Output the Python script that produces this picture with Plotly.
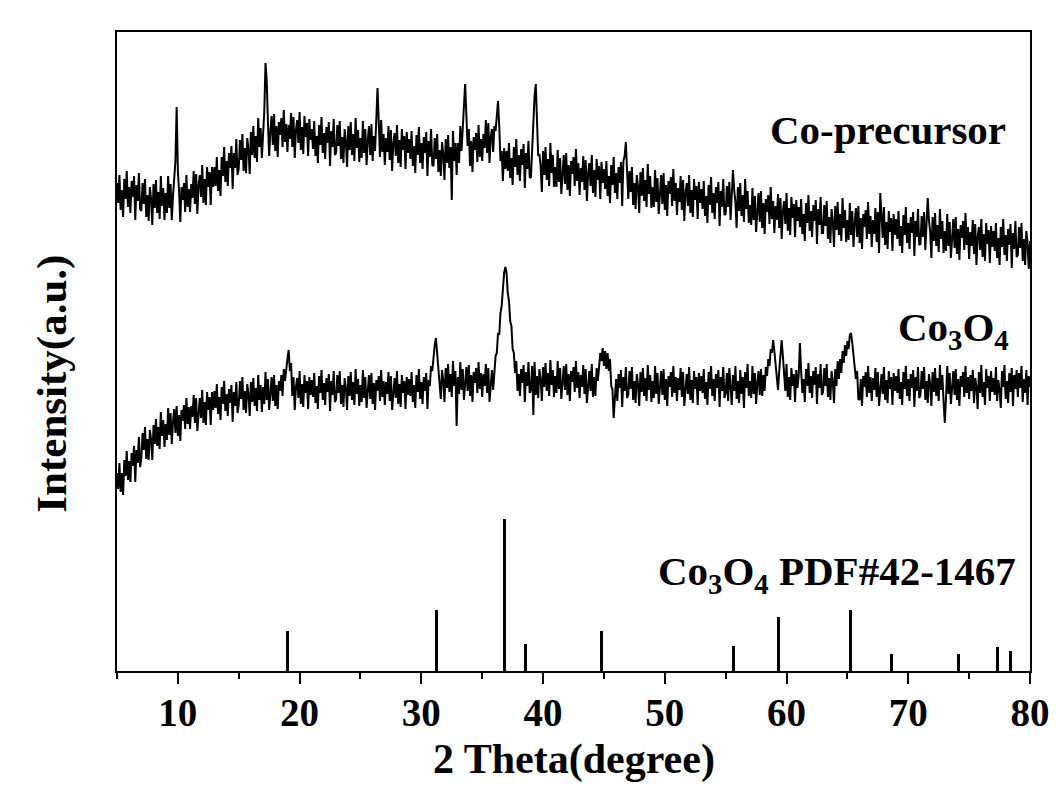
import numpy as np
import plotly.graph_objects as go

# 2-theta grid (degrees), step 0.1 from 5 to 80
two_theta = np.round(np.linspace(5.0, 80.0, 751), 1)

# Co-precursor intensity (arbitrary units, vertically offset), 20 points per 2 degrees
precursor = [
    488,468,496,461,481,454,492,472,500,464,484,458,490,474,495,451,486,470,498,462,
    460,488,467,492,454,476,450,484,472,446,487,463,491,458,479,452,495,465,483,451,
    478,458,495,463,487,451,475,490,510,564,500,480,449,484,471,488,459,496,464,482,
    459,487,473,500,467,497,457,486,496,474,506,468,492,466,504,484,499,466,504,484,
    504,485,514,480,501,475,514,495,524,489,510,485,518,503,525,482,518,503,532,496,
    502,531,511,537,500,523,498,533,522,497,539,516,545,513,535,509,553,524,543,513,
    535,560,608,590,548,515,540,555,526,557,520,545,514,549,536,553,524,561,529,547,
    519,546,532,558,524,554,513,541,551,528,559,521,544,517,555,534,548,515,552,531,
    542,522,550,515,535,508,546,526,554,518,538,512,544,528,549,505,540,524,552,516,
    518,546,525,550,512,534,508,542,530,504,545,521,549,516,537,510,553,523,541,509,
    533,513,550,518,542,506,530,545,516,547,510,535,520,555,583,550,514,551,519,537,
    506,533,519,545,511,541,500,528,538,515,546,508,531,504,542,521,535,502,539,518,
    532,512,540,505,525,498,536,516,544,508,528,502,534,518,539,495,530,514,542,506,
    505,533,512,537,499,521,495,529,517,491,532,508,536,503,524,471,540,510,528,496,
    528,508,545,520,550,565,587,560,525,542,505,530,499,534,521,538,509,546,514,532,
    510,537,523,551,518,548,508,534,542,519,545,540,555,570,545,510,520,490,523,502,
    520,500,528,493,513,486,524,504,532,496,516,490,522,506,527,483,518,502,530,494,
    493,521,540,575,587,555,515,517,505,479,520,496,524,491,512,485,528,498,516,484,
    504,484,521,489,513,477,501,516,487,518,481,506,475,510,497,514,485,522,490,508,
    476,503,489,515,481,511,470,498,508,485,516,478,501,474,512,491,505,472,509,488,
    502,482,510,475,495,468,506,486,514,478,498,472,504,488,509,465,510,515,529,500,
    472,500,479,504,466,488,462,496,484,458,499,475,503,470,491,464,507,477,495,463,
    484,464,501,469,493,457,481,496,467,498,461,486,455,490,477,494,465,502,470,488,
    456,483,469,495,461,491,450,478,488,465,496,458,481,454,492,471,485,452,489,468,
    482,462,490,455,475,448,486,466,494,458,478,452,484,468,489,445,480,464,492,456,
    457,485,464,489,451,473,501,481,469,443,484,460,488,455,476,449,492,462,480,448,
    466,446,483,451,475,439,463,478,449,480,443,468,437,472,459,476,447,484,452,470,
    438,465,451,477,443,473,432,460,470,447,478,440,463,436,474,453,467,434,471,450,
    464,444,472,437,457,430,468,448,476,440,460,434,466,450,471,427,462,446,474,438,
    438,466,445,470,432,454,428,462,450,424,465,441,469,436,457,430,473,443,461,429,
    451,431,468,436,460,424,448,463,434,465,428,453,422,457,444,461,432,469,437,455,
    424,451,437,463,429,459,418,478,456,433,464,426,449,422,460,439,453,420,457,436,
    452,432,460,425,445,418,456,436,464,428,448,422,454,438,459,415,450,434,462,426,
    427,455,434,459,421,443,473,451,439,413,454,430,458,425,446,419,462,432,450,418,
    440,420,457,425,449,413,437,452,423,454,417,442,411,446,433,450,421,458,426,444,
    412,439,425,451,417,447,406,434,444,421,452,414,437,410,448,427,441,408,445,424,
    440,420,448,413,433,406,444,424,452,416,436,410,442,426,447,403,438,422,450,414,
    416,444,423,448,410,432,406,440,428,402,430,
]

# Co3O4 intensity (arbitrary units, vertically offset), 20 points per 2 degrees
co3o4 = [
    198,182,208,179,198,176,211,195,220,191,210,189,218,205,225,189,221,208,234,204,
    213,238,221,244,212,232,211,241,232,211,246,227,252,225,244,222,259,235,251,224,
    247,231,263,236,258,227,249,262,238,265,235,256,230,261,250,266,242,273,247,264,
    242,265,254,276,248,273,240,263,273,253,281,248,269,246,279,261,274,246,279,261,
    280,263,287,257,274,251,284,267,290,260,277,255,282,268,286,249,279,265,289,258,
    266,290,272,294,261,280,258,287,277,255,289,269,293,265,283,260,296,271,286,259,
    284,267,299,271,292,261,282,294,270,296,265,286,262,290,280,296,275,302,290,305,
    312,321,300,308,275,294,261,284,293,273,300,267,287,264,296,278,290,262,294,276,
    291,274,298,268,285,262,295,278,301,271,288,266,293,279,297,260,290,276,300,269,
    272,296,278,300,267,286,264,293,283,261,295,275,299,271,289,266,302,277,292,265,
    286,269,301,273,294,263,284,296,272,298,267,288,261,291,280,295,270,301,274,290,
    266,289,277,299,270,295,261,284,293,273,300,267,287,264,296,278,290,262,294,276,
    292,275,299,269,286,263,296,279,302,272,289,267,294,280,298,262,291,285,305,300,
    315,326,333,318,298,282,272,301,291,269,303,283,307,279,297,274,310,285,300,245,
    294,277,309,281,302,271,292,304,280,306,275,296,269,299,288,303,278,309,282,298,
    274,297,285,307,278,303,269,292,301,281,300,315,318,338,336,358,365,388,398,404,
    398,378,370,350,345,322,318,298,310,280,297,275,302,288,306,269,299,285,309,278,
    281,305,256,309,276,295,273,302,292,270,304,284,308,280,298,275,311,286,301,274,
    295,278,310,282,303,272,293,305,281,307,276,297,270,300,289,304,279,310,283,299,
    273,296,284,306,277,302,268,291,300,280,307,274,294,275,303,290,305,318,310,323,
    305,320,302,318,300,312,285,282,253,275,292,270,297,283,301,264,294,280,304,273,
    276,300,282,304,271,290,268,297,287,265,299,279,303,275,293,270,306,281,296,269,
    290,273,305,277,298,267,288,300,276,302,271,292,265,295,284,299,274,305,278,294,
    270,293,281,303,274,299,265,288,297,277,304,271,291,268,300,282,294,266,298,280,
    295,278,302,272,289,266,299,282,305,275,292,270,297,283,301,264,294,280,304,273,
    278,298,270,303,284,266,296,280,305,272,290,268,301,277,294,263,299,283,307,275,
    290,273,305,277,298,267,288,300,276,302,275,296,280,304,295,312,305,322,318,331,
    320,308,290,281,300,322,331,315,298,280,307,274,294,271,303,285,297,269,301,283,
    296,328,300,278,292,269,302,285,308,278,295,273,300,286,304,267,297,283,307,276,
    279,303,285,307,274,293,271,300,290,268,302,285,310,292,312,298,320,308,326,315,
    330,322,336,338,328,318,305,292,300,272,271,292,265,295,284,299,274,305,278,294,
    270,293,281,303,274,299,265,288,297,277,304,271,291,268,300,282,294,266,298,280,
    295,278,302,272,289,266,299,282,305,275,292,270,297,283,301,264,294,280,304,273,
    276,300,282,304,271,290,268,297,287,265,299,279,303,275,293,270,306,281,296,269,
    248,273,305,277,298,267,288,300,276,302,271,292,265,295,284,299,274,305,278,294,
    272,296,280,301,268,293,284,262,299,278,306,274,289,266,302,283,295,270,300,279,
    293,276,304,270,291,281,263,300,284,306,272,290,268,298,279,303,265,296,282,301,
    274,298,283,305,269,292,278,301,266,295,284,
]

assert len(precursor) == len(two_theta), len(precursor)
assert len(co3o4) == len(two_theta), len(co3o4)

# Standard card Co3O4 PDF#42-1467 reference lines
pdf_pos = [19.0, 31.27, 36.85, 38.54, 44.81, 55.66, 59.36, 65.24, 68.63, 74.11, 77.34, 78.4]
pdf_int = [40, 61, 152, 27, 40, 25, 54, 61, 17, 17, 24, 20]

FONT = "Liberation Serif"

fig = go.Figure()
fig.add_trace(go.Scatter(x=two_theta, y=precursor, mode="lines",
                         line=dict(color="black", width=2.0), showlegend=False))
fig.add_trace(go.Scatter(x=two_theta, y=co3o4, mode="lines",
                         line=dict(color="black", width=2.0), showlegend=False))
fig.add_trace(go.Bar(x=pdf_pos, y=pdf_int, width=0.24, marker=dict(color="black", line=dict(width=0)),
                     showlegend=False))

lab_font = dict(family=FONT, size=41, color="black", weight="bold")
fig.add_annotation(x=78.2, y=541, text="Co-precursor", showarrow=False,
                   xanchor="right", yanchor="middle", font=lab_font)
fig.add_annotation(x=78.4, y=341, text="Co<sub>3</sub>O<sub>4</sub>", showarrow=False,
                   xanchor="right", yanchor="middle", font=lab_font)
fig.add_annotation(x=79.0, y=97, text="Co<sub>3</sub>O<sub>4</sub> PDF#42-1467", showarrow=False,
                   xanchor="right", yanchor="middle", font=lab_font)
# axis titles
fig.add_annotation(x=-0.071, y=0.45, xref="paper", yref="paper", text="Intensity(a.u.)",
                   textangle=-90, showarrow=False, xanchor="center", yanchor="middle",
                   font=dict(family=FONT, size=43, color="black", weight="bold"))
fig.add_annotation(x=0.5, y=-0.139, xref="paper", yref="paper", text="2 Theta(degree)",
                   showarrow=False, xanchor="center", yanchor="middle",
                   font=dict(family=FONT, size=42, color="black", weight="bold"))

fig.update_layout(
    width=1056, height=790,
    margin=dict(l=117, r=26, t=32, b=119),
    paper_bgcolor="white", plot_bgcolor="white",
    bargap=0,
    xaxis=dict(
        range=[5, 80], tick0=0, dtick=10, automargin=False,
        showline=True, linecolor="black", linewidth=2, mirror=True,
        ticks="outside", ticklen=11, tickwidth=2, tickcolor="black",
        ticklabelstandoff=-5,
        minor=dict(dtick=5, tick0=0, ticks="outside", ticklen=6, tickwidth=2, tickcolor="black"),
        showgrid=False, zeroline=False,
        tickfont=dict(family=FONT, size=39, color="black", weight="bold"),
    ),
    yaxis=dict(
        range=[0, 639], automargin=False,
        showline=True, linecolor="black", linewidth=2, mirror=True,
        ticks="", showticklabels=False, showgrid=False, zeroline=False,
    ),
)

fig.write_html("out.html")
